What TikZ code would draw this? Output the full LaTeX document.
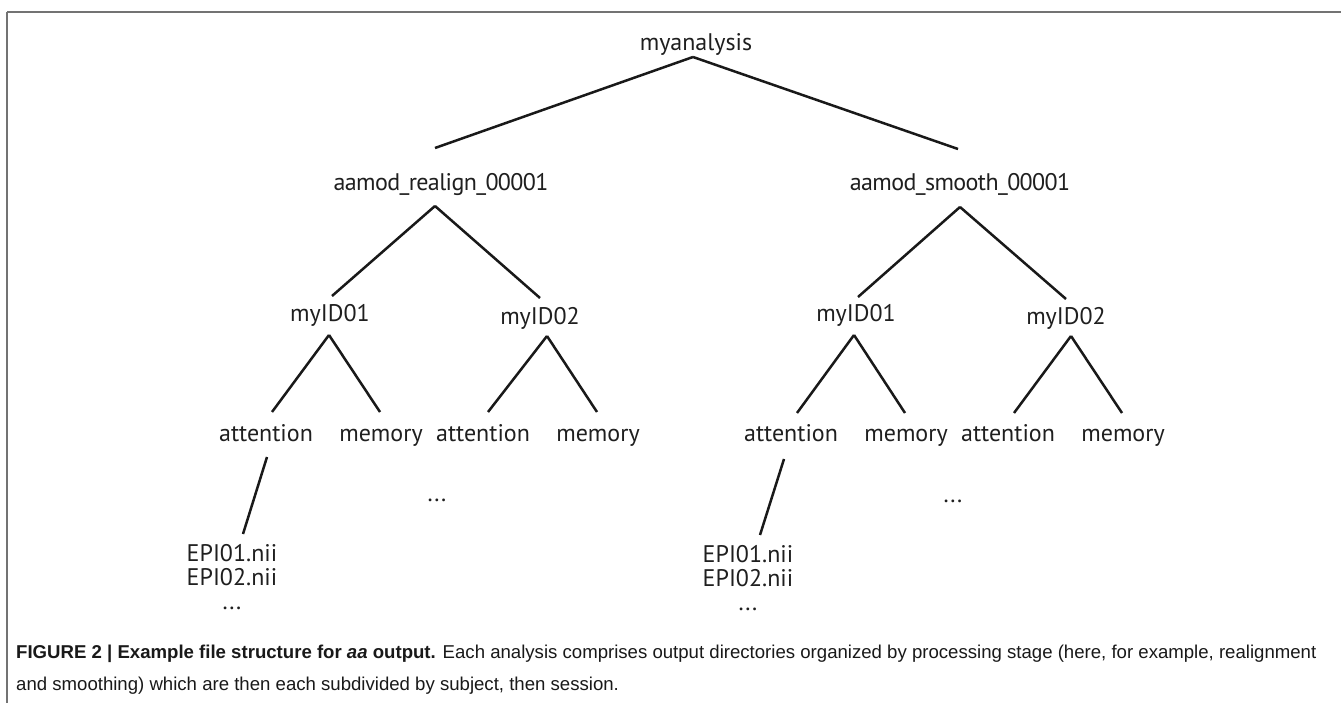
\documentclass[tikz,border=0pt]{standalone}
\usepackage{fontspec}
\setmainfont{PT Sans}
\newfontfamily\capfont{Liberation Sans}
\usetikzlibrary{calc}
\begin{document}
\begin{tikzpicture}[x=1pt,y=-1pt,
  lbl/.style={font=\fontsize{24}{24}\selectfont, text=black!88, inner sep=0pt, text height=17pt, text depth=0pt, anchor=center},
  edge/.style={line width=2.5pt, black!90},
  frameline/.style={line width=1.5pt, black!55}]
\useasboundingbox (0,0) rectangle (1341,703);
\fill[white] (0,0) rectangle (1341,703);
\draw[frameline] (7,12) -- (1341,12);
\draw[frameline] (7,12) -- (7,703);

% ---- nodes ----
\node[lbl] (root) at (696,42) {myanalysis};
\node[lbl] (ra) at (441,182) {\addfontfeature{LetterSpace=-2.5}aamod\_realign\_00001};
\node[lbl] (rs) at (960,182) {\addfontfeature{LetterSpace=-2.5}aamod\_smooth\_00001};

\node[lbl] (la) at (330,313) {myID01};
\node[lbl] (lb) at (540,316) {myID02};
\node[lbl] (ma) at (856,313) {myID01};
\node[lbl] (mb) at (1066,316) {myID02};

\node[lbl] (laa) at (266,433) {attention};
\node[lbl] (lam) at (381,433) {memory};
\node[lbl] (lba) at (483,433) {attention};
\node[lbl] (lbm) at (598,433) {memory};
\node[lbl] (maa) at (791,433) {attention};
\node[lbl] (mam) at (906,433) {memory};
\node[lbl] (mba) at (1008,433) {attention};
\node[lbl] (mbm) at (1123,433) {memory};

\node[lbl] (ldots) at (437,493) {...};
\node[lbl] (mdots) at (953,494) {...};

\node[lbl] (le1) at (232,553) {EPI01.nii};
\node[lbl] (le2) at (232,577) {EPI02.nii};
\node[lbl] (le3) at (232,601) {...};
\node[lbl] (me1) at (748,554) {EPI01.nii};
\node[lbl] (me2) at (748,578) {EPI02.nii};
\node[lbl] (me3) at (748,602) {...};

% ---- connectors ----
\draw[edge] ($(root.center)+(-3,15)$) -- ($(ra.center)+(-6,-34)$);
\draw[edge] ($(root.center)+(-3,15)$) -- ($(rs.center)+(-2,-33)$);

\draw[edge] ($(ra.center)+(-6,24)$) -- ($(la.center)+(2,-17)$);
\draw[edge] ($(ra.center)+(-6,24)$) -- ($(lb.center)+(0,-18)$);
\draw[edge] ($(rs.center)+(0,25)$) -- ($(ma.center)+(2,-16)$);
\draw[edge] ($(rs.center)+(0,25)$) -- ($(mb.center)+(0,-17)$);

\draw[edge] ($(la.center)+(-1,22)$) -- ($(laa.center)+(6,-21)$);
\draw[edge] ($(la.center)+(-1,22)$) -- ($(lam.center)+(-1,-21)$);
\draw[edge] ($(lb.center)+(7,20)$) -- ($(lba.center)+(5,-21)$);
\draw[edge] ($(lb.center)+(7,20)$) -- ($(lbm.center)+(-1,-21)$);
\draw[edge] ($(ma.center)+(-2,22)$) -- ($(maa.center)+(6,-20)$);
\draw[edge] ($(ma.center)+(-2,22)$) -- ($(mam.center)+(-1,-20)$);
\draw[edge] ($(mb.center)+(5,20)$) -- ($(mba.center)+(6,-20)$);
\draw[edge] ($(mb.center)+(5,20)$) -- ($(mbm.center)+(-1,-20)$);

\draw[edge] ($(laa.center)+(1,24)$) -- ($(le1.center)+(11,-19)$);
\draw[edge] ($(maa.center)+(-7,26)$) -- ($(me1.center)+(12,-19)$);

% ---- caption ----
\node[anchor=base west, inner sep=0pt, align=left, text=black!90,
      font=\capfont\fontsize{18.6}{32}\selectfont] (cap) at (16,690)
  {\textbf{FIGURE 2 | Example file structure for \textit{aa} output.} Each analysis comprises output directories organized by processing stage (here, for example, realignment\\
   and smoothing) which are then each subdivided by subject, then session.};
\end{tikzpicture}
\end{document}
